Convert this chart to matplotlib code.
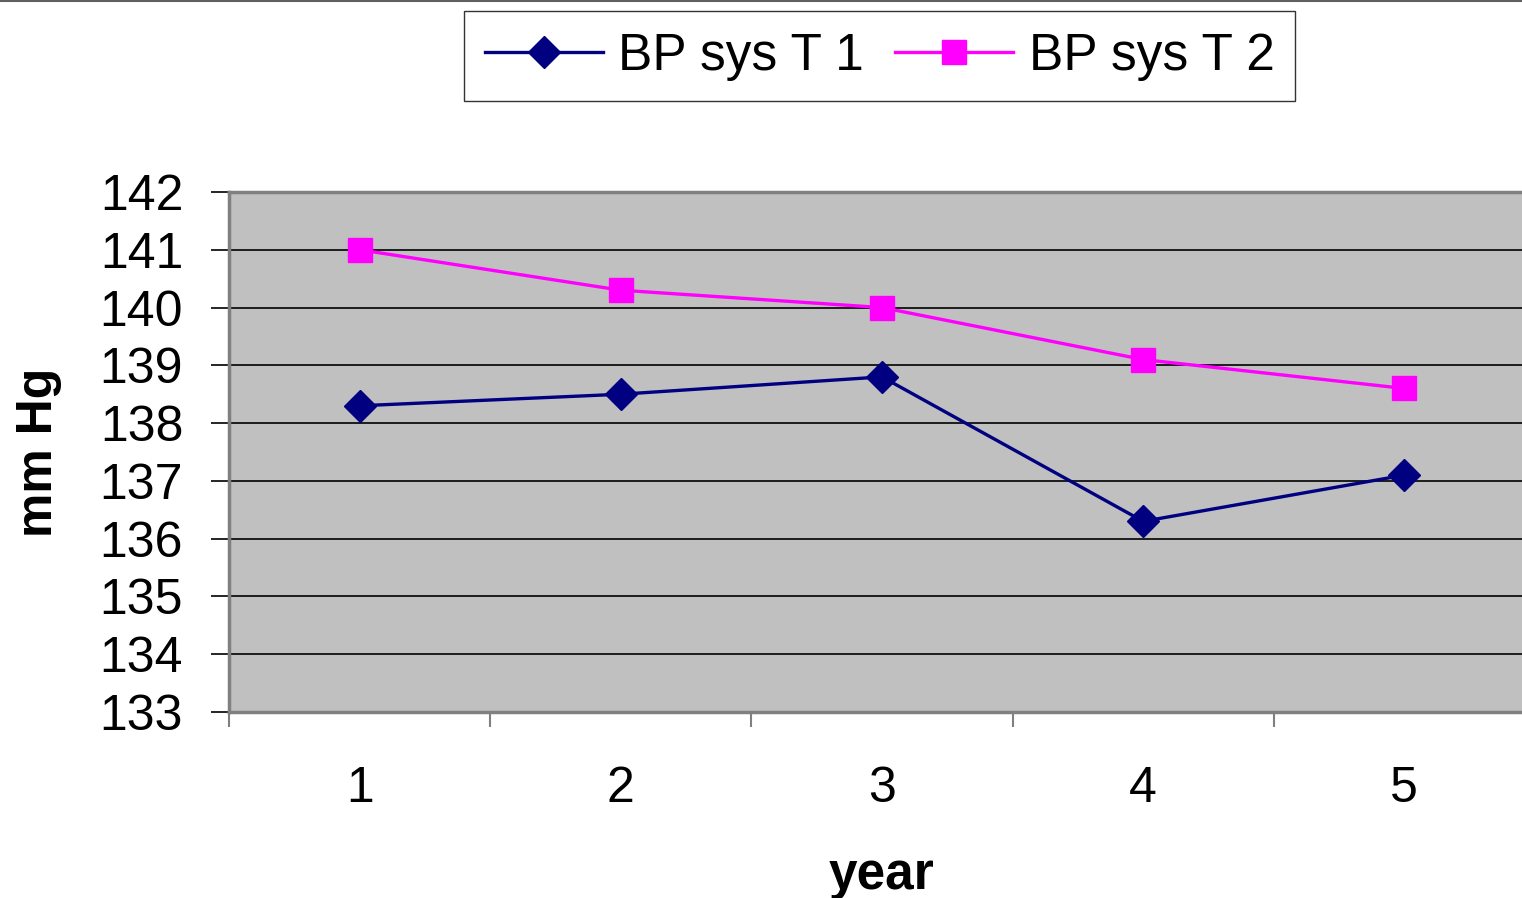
import matplotlib
matplotlib.use("Agg")
import matplotlib.pyplot as plt
from matplotlib.lines import Line2D
from matplotlib.ticker import FixedLocator

plt.rcParams['font.family'] = ['Liberation Sans', 'DejaVu Sans']

years = ["1", "2", "3", "4", "5"]
bp_t1 = [138.3, 138.5, 138.8, 136.3, 137.1]
bp_t2 = [141.0, 140.3, 140.0, 139.1, 138.6]
series_names = ["BP sys T 1", "BP sys T 2"]

fig = plt.figure(figsize=(15.22, 8.98), dpi=100)
ax = fig.add_axes([0.1505, 0.2071, 0.858, 0.5791])
ax.set_facecolor('#C0C0C0')

x = list(range(1, len(years) + 1))
ax.plot(x, bp_t1, color='#000080', lw=2.4, marker='D', ms=16,
        mfc='#000080', mec='#000080', label=series_names[0], zorder=3, clip_on=False)
ax.plot(x, bp_t2, color='#FF00FF', lw=2.4, marker='s', ms=17,
        mfc='#FF00FF', mec='#FF00FF', label=series_names[1], zorder=3, clip_on=False)

ax.set_xlim(0.5, len(years) + 0.5)
ax.set_ylim(133, 142)
ax.set_yticks(range(133, 143))
ax.grid(axis='y', color='black', lw=1.2)
ax.set_axisbelow(True)

ax.set_xticks(x)
ax.set_xticklabels(years)
ax.xaxis.set_minor_locator(FixedLocator([i + 0.5 for i in range(0, len(years) + 1)]))
ax.tick_params(axis='x', which='major', length=0, pad=39, labelsize=36)
ax.tick_params(axis='x', which='minor', length=11, width=1.5, color='#808080', direction='out')
ax.tick_params(axis='y', length=13, width=1.2, color='black', pad=20, labelsize=36)

for side in ['top', 'left', 'bottom']:
    ax.spines[side].set_color('#808080')
    ax.spines[side].set_linewidth(2.5)
ax.spines['right'].set_visible(False)

ax.set_ylabel('mm Hg', fontsize=36, fontweight='bold', labelpad=27)
ax.set_xlabel('year', fontsize=37, fontweight='bold', labelpad=28)

leg = fig.legend(loc='center', bbox_to_anchor=(0.578, 0.9375), ncol=2,
                 fontsize=37, frameon=True, fancybox=False, edgecolor='black',
                 handlelength=2.3, handletextpad=0.3, columnspacing=0.6,
                 borderpad=0.4, markerscale=1.0)
leg.get_frame().set_linewidth(1.0)

fig.add_artist(Line2D([0, 1], [0.999, 0.999], color='#606060', lw=1.5,
                      transform=fig.transFigure))

fig.savefig('out.png', dpi=100)
